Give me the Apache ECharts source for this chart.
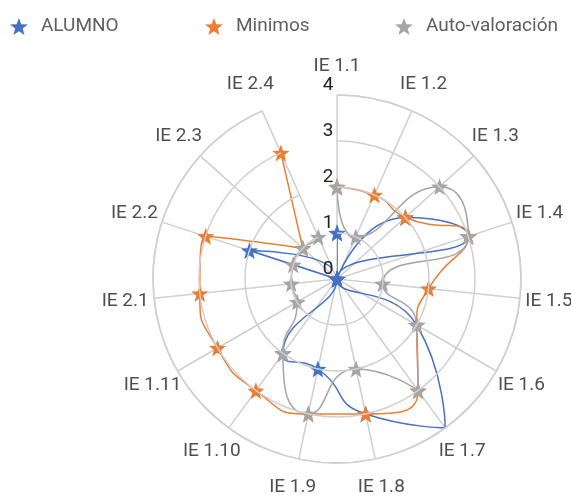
<!DOCTYPE html>
<html>
<head>
<meta charset="utf-8">
<script src="https://cdn.jsdelivr.net/npm/echarts@6/dist/echarts.min.js"></script>
<style>
html,body{margin:0;padding:0;background:#fff;}
#chart{width:571px;height:497px;}
</style>
</head>
<body>
<div id="chart"></div>
<script>
const categories = ['IE 1.1','IE 1.2','IE 1.3','IE 1.4','IE 1.5','IE 1.6','IE 1.7','IE 1.8','IE 1.9','IE 1.10','IE 1.11','IE 2.1','IE 2.2','IE 2.3','IE 2.4'];
const seriesNames = ['ALUMNO','Minimos','Auto-valoración'];
const alumno = [1,0,2,3,0,2,4,3,2,2,0,0,2,0,0];
const minimos = [2,2,2,3,2,2,3,3,3,3,3,3,3,1,3];
const autoValoracion = [2,1,3,3,1,2,3,2,3,2,1,1,1,1,1];
const radiusTicks = [0,1,2,3,4];

const colors = ['#4472c4','#ed7d31','#a5a5a5'];
const STAR = 'path://M50,0 L62.34,33.01 L97.55,34.55 L69.97,56.49 L79.39,90.45 L50,71 L20.61,90.45 L30.03,56.49 L2.45,34.55 L37.66,33.01 Z';
const FONT = 'Roboto';

function closedLoop(values){
  const d = values.map((v,i)=>[v, categories[i]]);
  d.push([values[0], categories[0]]);
  return d;
}

const chart = echarts.init(document.getElementById('chart'), null, {renderer:'canvas'});

const legendLefts = [5, 200, 390];
const legends = seriesNames.map((n,i)=>({
  data:[n],
  left: legendLefts[i],
  top: 12,
  icon: STAR,
  itemWidth: 34,
  itemHeight: 17,
  itemGap: 0,
  textStyle:{fontFamily:FONT, fontSize:19, color:'#5f5f5f'}
}));

const lineSeries = [alumno, minimos, autoValoracion].map((vals,i)=>({
  name: seriesNames[i],
  type:'line',
  coordinateSystem:'polar',
  polarIndex:0,
  data: closedLoop(vals),
  smooth: 0.6,
  symbol: STAR,
  symbolSize: 17,
  showAllSymbol: true,
  color: colors[i],
  lineStyle:{width:1.5, color:colors[i]},
  itemStyle:{color:colors[i]},
  z: 3 + i,
  animation:false
}));

const option = {
  backgroundColor:'#fff',
  animation:false,
  legend: legends,
  polar:[
    {center:[337,279], radius:184},
    {center:[337,279], radius:213}
  ],
  angleAxis:[
    {
      polarIndex:0,
      type:'category',
      data:categories,
      startAngle:90,
      clockwise:true,
      boundaryGap:false,
      axisLine:{show:true, lineStyle:{color:'#cfcfcf', width:1.5}},
      axisTick:{show:false},
      axisLabel:{show:false},
      splitLine:{show:true, lineStyle:{color:'#cfcfcf', width:1.5}}
    },
    {
      polarIndex:1,
      type:'category',
      data:categories,
      startAngle:90,
      clockwise:true,
      boundaryGap:false,
      axisLine:{show:false},
      axisTick:{show:false},
      axisLabel:{show:false},
      splitLine:{show:false}
    }
  ],
  radiusAxis:[
    {
      polarIndex:0,
      type:'value',
      min:radiusTicks[0],
      max:radiusTicks[radiusTicks.length-1],
      interval:1,
      z:10,
      axisLine:{show:false, lineStyle:{color:'rgba(0,0,0,0)'}},
      axisTick:{show:false},
      splitLine:{show:true, lineStyle:{color:'#cfcfcf', width:1.5}},
      axisLabel:{show:true, fontFamily:FONT, fontSize:19, color:'#222', margin:9, align:'center', verticalAlign:'bottom'}
    },
    {
      polarIndex:1,
      type:'value',
      min:0,
      max:1,
      axisLine:{show:false, lineStyle:{color:'rgba(0,0,0,0)'}},
      axisTick:{show:false},
      splitLine:{show:false},
      axisLabel:{show:false}
    }
  ],
  series: lineSeries.concat([{
    name:'labels',
    type:'scatter',
    coordinateSystem:'polar',
    polarIndex:1,
    data: categories.map(c=>[1,c]),
    symbolSize:1,
    itemStyle:{color:'rgba(0,0,0,0)'},
    silent:true,
    label:{show:true, position:'inside', formatter:(p)=>p.value[1], fontFamily:FONT, fontSize:19, color:'#222'},
    z:1
  }])
};
chart.setOption(option);
</script>
</body>
</html>
